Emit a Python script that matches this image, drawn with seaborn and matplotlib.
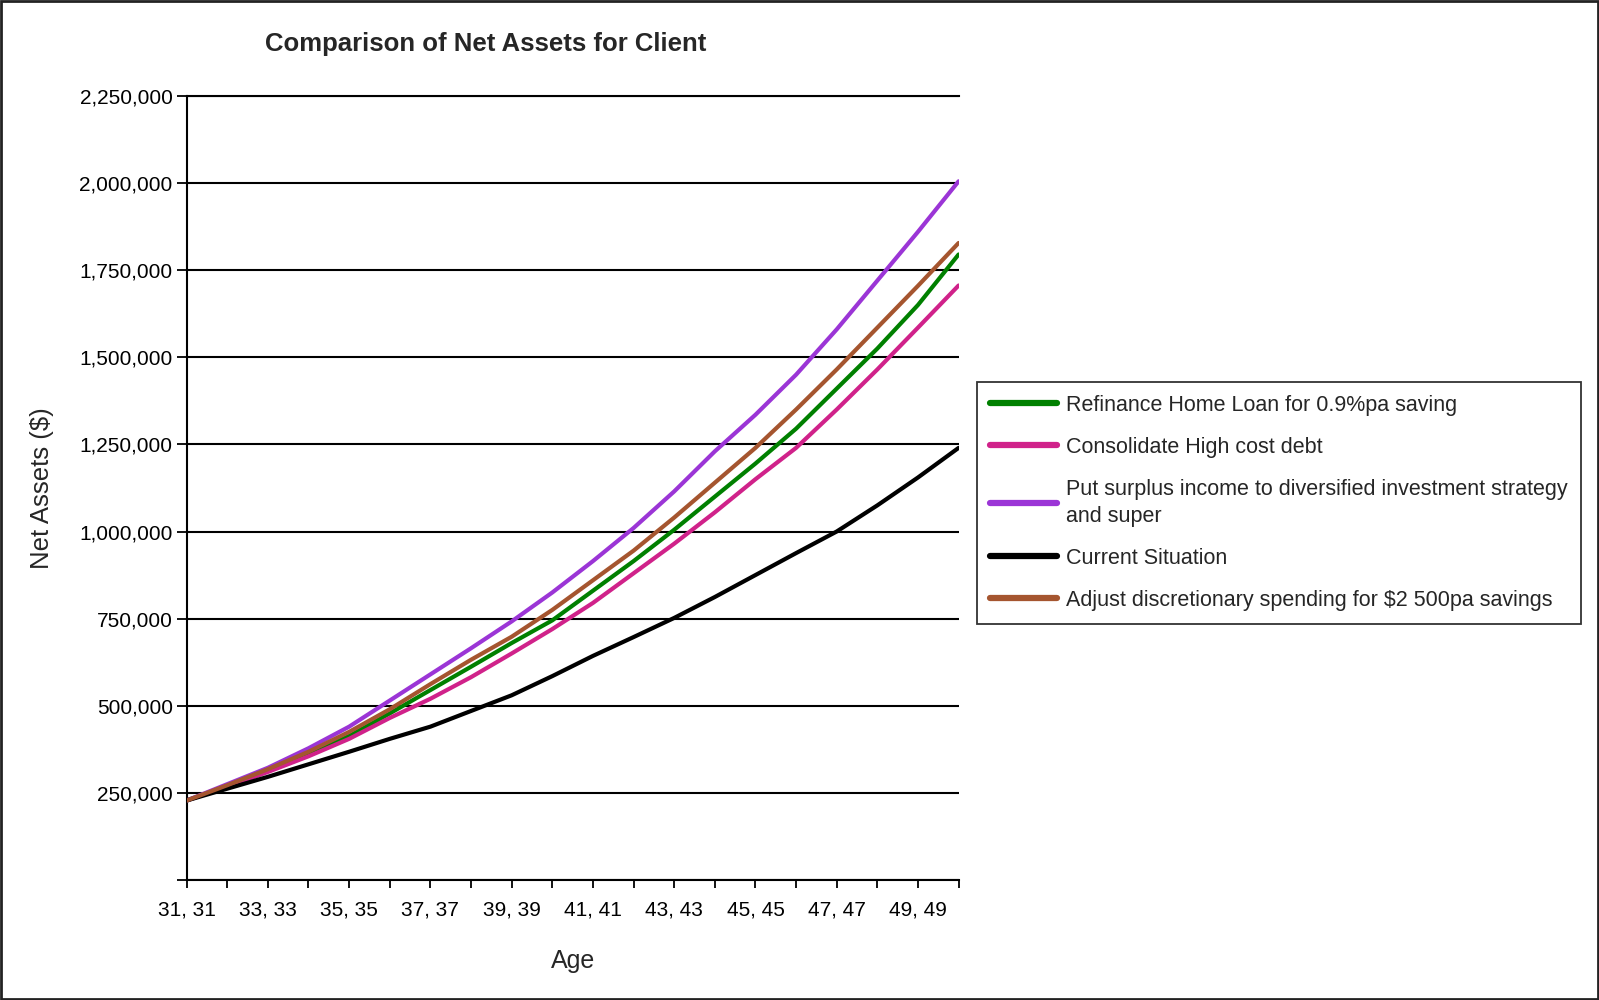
import matplotlib
matplotlib.use("Agg")
import matplotlib.pyplot as plt
from matplotlib.patches import Rectangle
from matplotlib.ticker import FuncFormatter
import pandas as pd
import seaborn as sns

# Projection years (client age)
ages = list(range(31, 51))

# Net asset projections per strategy ($)
refinance = [228000, 270000, 314000, 362000, 413000, 478000, 545000, 612000, 680000, 745000,
             830000, 915000, 1005000, 1100000, 1195000, 1295000, 1410000, 1525000, 1650000, 1795000]
consolidate = [228000, 268000, 310000, 355000, 405000, 465000, 520000, 582000, 650000, 720000,
               795000, 880000, 965000, 1055000, 1150000, 1240000, 1350000, 1465000, 1585000, 1706000]
surplus = [228000, 275000, 322000, 378000, 440000, 515000, 590000, 665000, 742000, 825000,
           915000, 1010000, 1115000, 1230000, 1335000, 1450000, 1580000, 1720000, 1860000, 2005000]
current = [228000, 262000, 296000, 332000, 368000, 405000, 440000, 485000, 530000, 585000,
           643000, 697000, 752000, 812000, 875000, 938000, 1000000, 1075000, 1155000, 1240000]
discretionary = [228000, 272000, 318000, 368000, 425000, 490000, 562000, 632000, 698000, 775000,
                 860000, 945000, 1040000, 1140000, 1240000, 1350000, 1465000, 1585000, 1705000, 1828000]

series_names = [
    "Refinance Home Loan for 0.9%pa saving",
    "Consolidate High cost debt",
    "Put surplus income to diversified investment strategy\nand super",
    "Current Situation",
    "Adjust discretionary spending for $2 500pa savings",
]
series_values = [refinance, consolidate, surplus, current, discretionary]
series_colors = ["#008000", "#D0228A", "#9B35D6", "#000000", "#A5552F"]

x_tick_labels = [f"{a}, {a}" if a % 2 == 1 else "" for a in ages]
y_ticks = list(range(0, 2250001, 250000))

frames = [pd.DataFrame({"Age": ages, "Net Assets": vals, "Scenario": name})
          for name, vals in zip(series_names, series_values)]
df = pd.concat(frames, ignore_index=True)

sns.set_style("white")
plt.rcParams["font.family"] = ["Liberation Sans", "DejaVu Sans"]

fig = plt.figure(figsize=(15.99, 10.0), dpi=100)
ax = fig.add_axes([186.6 / 1599, 1 - 880 / 1000, (958.6 - 186.6) / 1599, (880 - 95.9) / 1000])

sns.lineplot(data=df, x="Age", y="Net Assets", hue="Scenario", hue_order=series_names,
             palette=series_colors, linewidth=3.0, ax=ax, legend=False, zorder=3)

ax.set_xlim(31, 50)
ax.set_ylim(0, 2250000)

ax.set_xticks(ages)
ax.set_xticklabels(x_tick_labels)
ax.set_yticks(y_ticks)
ax.yaxis.set_major_formatter(FuncFormatter(lambda v, p: "" if v == 0 else f"{int(v):,}"))

ax.tick_params(axis="x", direction="out", length=6, width=1.3, pad=8.5, labelsize=15, colors="black")
ax.tick_params(axis="y", direction="out", length=7, width=1.3, pad=3, labelsize=15, colors="black")
ax.tick_params(bottom=True, left=True)

ax.grid(axis="y", color="black", linewidth=1.5)
ax.grid(axis="x", visible=False)

for side in ["left", "bottom", "top"]:
    ax.spines[side].set_visible(True)
    ax.spines[side].set_color("black")
    ax.spines[side].set_linewidth(1.5)
ax.spines["right"].set_visible(False)

ax.set_xlabel("Age", fontsize=18)
ax.xaxis.set_label_coords(0.5, -0.088)
ax.set_ylabel("Net Assets ($)", fontsize=18.5)
ax.yaxis.set_label_coords(-0.172, 0.5)

fig.text(486 / 1599, 1 - 44 / 1000, "Comparison of Net Assets for Client",
         ha="center", va="center", fontsize=18.5, fontweight="bold")

handles = [plt.Line2D([], [], color=c, linewidth=4.5) for c in series_colors]
leg = ax.legend(handles, series_names, loc="upper left",
                bbox_to_anchor=(977 / 1599, 1 - 382 / 1000), bbox_transform=fig.transFigure,
                fontsize=15.5, frameon=True, fancybox=False, shadow=False,
                handlelength=3.1, handletextpad=0.45, labelspacing=0.98,
                borderpad=0.6, borderaxespad=0)
for t in leg.get_texts():
    t.set_linespacing(1.35)
leg.get_frame().set_edgecolor("black")
leg.get_frame().set_linewidth(1.3)

fig.patches.append(Rectangle((0.0005, 0.001), 0.999, 0.998, transform=fig.transFigure,
                             fill=False, edgecolor="#222222", linewidth=2))

fig.savefig("out.png", dpi=100, facecolor="white")
